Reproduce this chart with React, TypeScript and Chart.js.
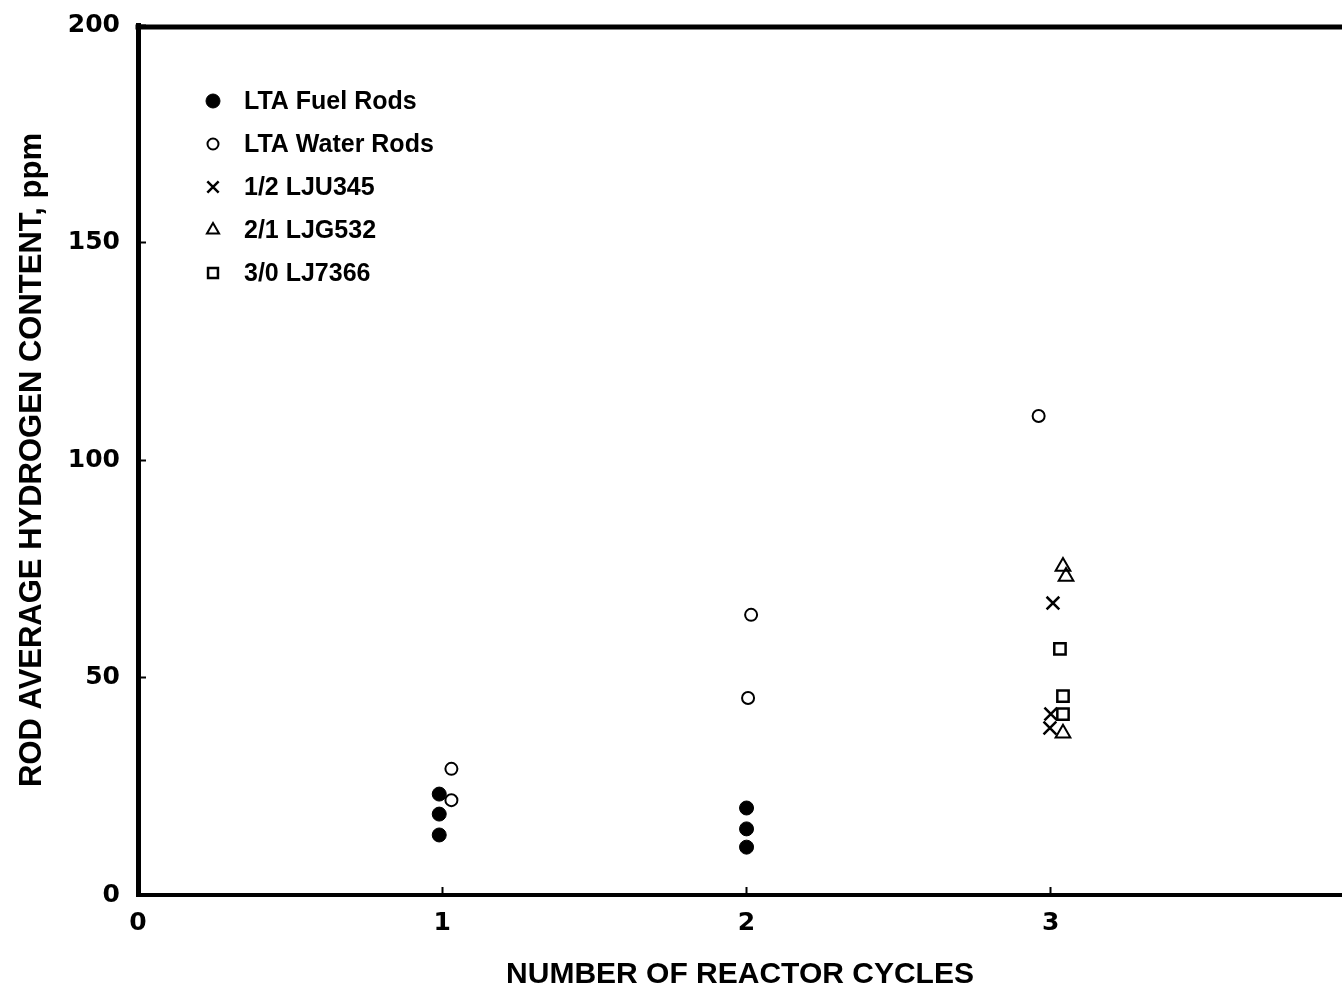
import React, { useEffect, useRef } from 'react';
import { Chart, registerables } from 'chart.js';
import { drawPoint } from 'chart.js/helpers';

Chart.register(...registerables);

// ---- data ----
const seriesLabels = ['LTA Fuel Rods', 'LTA Water Rods', '1/2 LJU345', '2/1 LJG532', '3/0 LJ7366'];

const fuelX = [0.99, 0.99, 0.99, 2.0, 2.0, 2.0];
const fuelY = [23.2, 18.6, 13.8, 20.0, 15.2, 11.0];

const waterX = [1.03, 1.03, 2.015, 2.005, 2.96];
const waterY = [29.0, 21.8, 64.4, 45.3, 110.1];

const lju345X = [3.007, 3.0, 2.997];
const lju345Y = [67.1, 41.6, 38.4];

const ljg532X = [3.04, 3.05, 3.04];
const ljg532Y = [75.5, 73.2, 37.2];

const lj7366X = [3.03, 3.04, 3.04];
const lj7366Y = [56.6, 45.7, 41.6];

const xTicks = [0, 1, 2, 3];
const yTicks = [0, 50, 100, 150, 200];

const xTitle = 'NUMBER OF REACTOR CYCLES';
const yTitle = 'ROD AVERAGE HYDROGEN CONTENT, ppm';

const pts = (xs: number[], ys: number[]) => xs.map((x, i) => ({ x, y: ys[i] }));

const legendRadii = [7, 5.5, 8, 7, 7];

const framePlugin = {
  id: 'frameAndLegend',
  afterDatasetsDraw(chart: any) {
    const { ctx, chartArea: a } = chart;
    ctx.save();
    // top frame line
    ctx.strokeStyle = '#000';
    ctx.lineWidth = 5;
    ctx.beginPath();
    ctx.moveTo(a.left - 2.5, a.top + 2);
    ctx.lineTo(a.right, a.top + 2);
    ctx.stroke();
    // legend
    ctx.font = 'bold 25px "Liberation Sans", Arial, sans-serif';
    ctx.textBaseline = 'middle';
    ctx.textAlign = 'left';
    chart.data.datasets.forEach((ds: any, i: number) => {
      const x = a.left + 75;
      const y = a.top + 76 + i * 43;
      ctx.fillStyle = ds.backgroundColor;
      ctx.strokeStyle = ds.borderColor;
      ctx.lineWidth = ds.borderWidth;
      drawPoint(ctx, { pointStyle: ds.pointStyle, radius: legendRadii[i], rotation: 0, borderWidth: ds.borderWidth }, x, y);
      ctx.fillStyle = '#000';
      ctx.fillText(ds.label, a.left + 106, y + 1);
    });
    ctx.restore();
  },
};

export default function App() {
  const ref = useRef<HTMLCanvasElement | null>(null);

  useEffect(() => {
    if (!ref.current) return;
    Chart.defaults.font.family = '"Liberation Sans", Arial, sans-serif';
    const tickFont = { family: '"DejaVu Sans", sans-serif', size: 25, weight: 'bold' as const };
    const xTitleFont = { family: '"Liberation Sans", Arial, sans-serif', size: 30, weight: 'bold' as const };
    const yTitleFont = { family: '"Liberation Sans", Arial, sans-serif', size: 31, weight: 'bold' as const };

    const chart = new Chart(ref.current, {
      type: 'scatter',
      data: {
        datasets: [
          {
            label: seriesLabels[0],
            data: pts(fuelX, fuelY),
            pointStyle: 'circle',
            pointRadius: 7,
            backgroundColor: '#000',
            borderColor: '#000',
            borderWidth: 1,
          },
          {
            label: seriesLabels[1],
            data: pts(waterX, waterY),
            pointStyle: 'circle',
            pointRadius: 6,
            backgroundColor: 'rgba(0,0,0,0)',
            borderColor: '#000',
            borderWidth: 2,
          },
          {
            label: seriesLabels[2],
            data: pts(lju345X, lju345Y),
            pointStyle: 'crossRot',
            pointRadius: 9,
            backgroundColor: 'rgba(0,0,0,0)',
            borderColor: '#000',
            borderWidth: 2.5,
          },
          {
            label: seriesLabels[3],
            data: pts(ljg532X, ljg532Y),
            pointStyle: 'triangle',
            pointRadius: 8.5,
            backgroundColor: 'rgba(0,0,0,0)',
            borderColor: '#000',
            borderWidth: 2,
          },
          {
            label: seriesLabels[4],
            data: pts(lj7366X, lj7366Y),
            pointStyle: 'rect',
            pointRadius: 8,
            backgroundColor: 'rgba(0,0,0,0)',
            borderColor: '#000',
            borderWidth: 2.5,
          },
        ] as any,
      },
      options: {
        animation: false,
        responsive: false,
        layout: { autoPadding: false, padding: { top: 25, left: 0, right: 0, bottom: 0 } },
        plugins: { legend: { display: false }, tooltip: { enabled: false } },
        scales: {
          x: {
            type: 'linear',
            min: 0,
            max: 3.957,
            afterBuildTicks: (s: any) => {
              s.ticks = xTicks.map((v) => ({ value: v }));
            },
            afterFit: (s: any) => {
              s.height = 101;
              s.paddingLeft = 0;
              s.paddingRight = 0;
              s.paddingTop = 0;
              s.paddingBottom = 0;
            },
            border: { display: true, color: '#000', width: 4 },
            grid: { drawOnChartArea: false, drawTicks: true, tickLength: -8, tickWidth: 2, tickColor: '#000' },
            ticks: {
              color: '#000',
              font: tickFont,
              padding: 21,
              maxRotation: 0,
              autoSkip: false,
              callback: (v: any) => String(v),
            },
            title: {
              display: true,
              text: xTitle,
              color: '#000',
              font: xTitleFont,
              padding: { top: 0, bottom: 3 },
            },
          },
          y: {
            type: 'linear',
            min: 0,
            max: 200,
            afterBuildTicks: (s: any) => {
              s.ticks = yTicks.map((v) => ({ value: v }));
            },
            afterFit: (s: any) => {
              s.width = 138;
              s.paddingLeft = 0;
              s.paddingRight = 0;
              s.paddingTop = 0;
              s.paddingBottom = 0;
            },
            border: { display: true, color: '#000', width: 5 },
            grid: { drawOnChartArea: false, drawTicks: true, tickLength: -8, tickWidth: 2, tickColor: '#000' },
            ticks: {
              color: '#000',
              font: tickFont,
              padding: 26,
              autoSkip: false,
              callback: (v: any) => String(v),
            },
            title: {
              display: true,
              text: yTitle,
              color: '#000',
              font: yTitleFont,
              padding: { top: 14, bottom: 0 },
            },
          },
        },
      } as any,
      plugins: [framePlugin],
    });
    return () => chart.destroy();
  }, []);

  return (
    <div style={{ position: 'absolute', left: 0, top: 0, width: 1342, height: 996, background: '#fff' }}>
      <canvas ref={ref} width={1342} height={996} style={{ display: 'block' }} />
    </div>
  );
}
